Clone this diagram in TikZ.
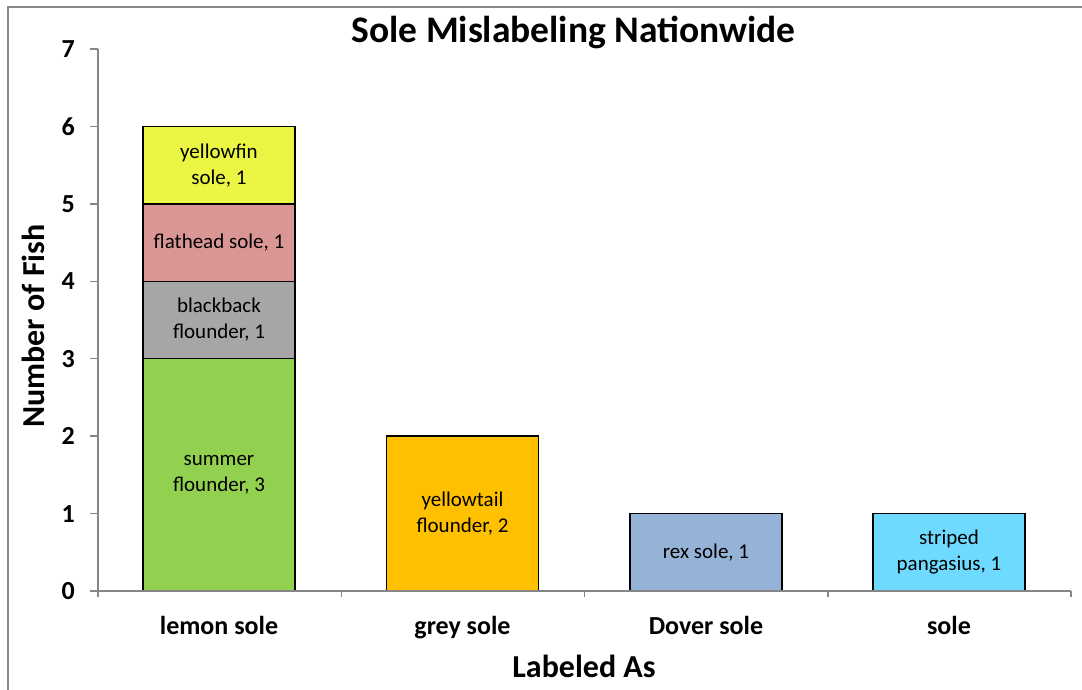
\documentclass[tikz,border=0pt]{standalone}
\usepackage{fontspec}
\setmainfont{Carlito}
\usetikzlibrary{positioning}

\definecolor{framegray}{HTML}{898989}
\definecolor{axisgray}{HTML}{868686}
\definecolor{summergreen}{HTML}{92D050}
\definecolor{blackbackgray}{HTML}{A6A6A6}
\definecolor{flatheadred}{HTML}{DA9694}
\definecolor{yellowfinyellow}{HTML}{EBF544}
\definecolor{yellowtailorange}{HTML}{FFC000}
\definecolor{rexblue}{HTML}{95B3D7}
\definecolor{pangasiuscyan}{HTML}{6FDAFF}

\begin{document}
\begin{tikzpicture}[x=1pt, y=1pt,
    bar/.style={draw=black, line width=1.5pt, outer sep=0pt, inner sep=0pt,
        minimum width=152pt, align=center,
        font=\fontsize{21}{26}\selectfont},
    axisline/.style={draw=axisgray, line width=1.5pt},
    ticklabel/.style={inner sep=0pt, font=\bfseries\fontsize{26}{30}\selectfont},
    axistitle/.style={inner sep=0pt, font=\bfseries\fontsize{32}{38}\selectfont}]

\useasboundingbox (0,0) rectangle (1082,689);
\draw[framegray, line width=1.5pt] (8,-5) -- (8,682) -- (1090,682);

% lemon sole
\node[bar, fill=summergreen, minimum height=3*77.43pt, anchor=south] (summer)
    at (219,98) {summer\\flounder, 3};
\node[bar, fill=blackbackgray, minimum height=77.43pt, above=0pt of summer] (blackback)
    {blackback\\flounder, 1};
\node[bar, fill=flatheadred, minimum height=77.43pt, above=0pt of blackback] (flathead)
    {flathead sole, 1};
\node[bar, fill=yellowfinyellow, minimum height=77.43pt, above=0pt of flathead] (yellowfin)
    {yellowfin\\sole, 1};

% the other three
\node[bar, fill=yellowtailorange, minimum height=2*77.43pt, anchor=south] (yellowtail)
    at (462.5,98) {yellowtail\\flounder, 2};
\node[bar, fill=rexblue, minimum height=77.43pt, anchor=south] (rex)
    at (706,98) {rex sole, 1};
\node[bar, fill=pangasiuscyan, minimum height=77.43pt, anchor=south] (pangasius)
    at (949,98) {striped\\pangasius, 1};

% axes
\draw[axisline] (98,98+7*77.43) -- (98,98) -- (1071,98);
\foreach \k in {0,...,7} {
    \draw[axisline] (90,98+\k*77.43) -- (98,98+\k*77.43);
    \node[ticklabel, anchor=east] (ytick\k) at (75,98+\k*77.43) {\k};
}
\foreach \x in {98,341.25,584.5,827.75,1071}
    \draw[axisline] (\x,98) -- (\x,92);

\node[ticklabel, anchor=base] (lemon) at (219,55) {lemon sole};
\node[ticklabel, anchor=base] (grey) at (462.5,55) {grey sole};
\node[ticklabel, anchor=base] (dover) at (706,55) {Dover sole};
\node[ticklabel, anchor=base] (sole) at (949,55) {sole};

\node[axistitle, anchor=base] (xtitle) at (584,12) {Labeled As};
\node[axistitle, rotate=90] (ytitle) at (33,363) {Number of Fish};
\node[inner sep=0pt, anchor=base, font=\bfseries\fontsize{37.5}{44}\selectfont] (title)
    at (573.5,646) {Sole Mislabeling Nationwide};

\end{tikzpicture}
\end{document}
